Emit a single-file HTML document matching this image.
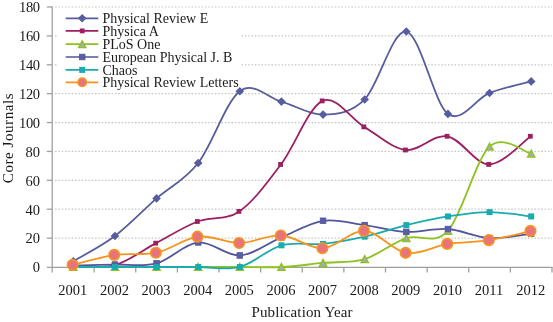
<!DOCTYPE html>
<html><head><meta charset="utf-8"><style>
html,body{margin:0;padding:0;background:#fff;}
svg{display:block;will-change:transform;}
text{font-family:"Liberation Serif",serif;fill:#1a1a1a;}
</style></head><body>
<svg width="553" height="322" viewBox="0 0 553 322">
<rect width="553" height="322" fill="#fff"/>

<line x1="55.05" y1="238.11" x2="552" y2="238.11" stroke="#C4C4C4" stroke-width="1.2" stroke-dasharray="1.5 1.83"/>
<line x1="55.05" y1="209.22" x2="552" y2="209.22" stroke="#C4C4C4" stroke-width="1.2" stroke-dasharray="1.5 1.83"/>
<line x1="55.05" y1="180.33" x2="552" y2="180.33" stroke="#C4C4C4" stroke-width="1.2" stroke-dasharray="1.5 1.83"/>
<line x1="55.05" y1="151.44" x2="552" y2="151.44" stroke="#C4C4C4" stroke-width="1.2" stroke-dasharray="1.5 1.83"/>
<line x1="55.05" y1="122.56" x2="552" y2="122.56" stroke="#C4C4C4" stroke-width="1.2" stroke-dasharray="1.5 1.83"/>
<line x1="55.05" y1="93.67" x2="552" y2="93.67" stroke="#C4C4C4" stroke-width="1.2" stroke-dasharray="1.5 1.83"/>
<line x1="55.05" y1="64.78" x2="552" y2="64.78" stroke="#C4C4C4" stroke-width="1.2" stroke-dasharray="1.5 1.83"/>
<line x1="55.05" y1="35.89" x2="552" y2="35.89" stroke="#C4C4C4" stroke-width="1.2" stroke-dasharray="1.5 1.83"/>
<line x1="55.05" y1="7.00" x2="552" y2="7.00" stroke="#C4C4C4" stroke-width="1.2" stroke-dasharray="1.5 1.83"/>
<g stroke="#A0A0A0" stroke-width="1.3" fill="none">
<line x1="52.2" y1="6.3" x2="52.2" y2="272.5"/>
<line x1="46.8" y1="267.3" x2="552.5" y2="267.3"/>
<line x1="46.8" y1="238.11" x2="52.2" y2="238.11"/>
<line x1="46.8" y1="209.22" x2="52.2" y2="209.22"/>
<line x1="46.8" y1="180.33" x2="52.2" y2="180.33"/>
<line x1="46.8" y1="151.44" x2="52.2" y2="151.44"/>
<line x1="46.8" y1="122.56" x2="52.2" y2="122.56"/>
<line x1="46.8" y1="93.67" x2="52.2" y2="93.67"/>
<line x1="46.8" y1="64.78" x2="52.2" y2="64.78"/>
<line x1="46.8" y1="35.89" x2="52.2" y2="35.89"/>
<line x1="46.8" y1="7.00" x2="52.2" y2="7.00"/>
<line x1="94.12" y1="267" x2="94.12" y2="272.5"/>
<line x1="135.75" y1="267" x2="135.75" y2="272.5"/>
<line x1="177.38" y1="267" x2="177.38" y2="272.5"/>
<line x1="219.00" y1="267" x2="219.00" y2="272.5"/>
<line x1="260.62" y1="267" x2="260.62" y2="272.5"/>
<line x1="302.25" y1="267" x2="302.25" y2="272.5"/>
<line x1="343.88" y1="267" x2="343.88" y2="272.5"/>
<line x1="385.50" y1="267" x2="385.50" y2="272.5"/>
<line x1="427.12" y1="267" x2="427.12" y2="272.5"/>
<line x1="468.75" y1="267" x2="468.75" y2="272.5"/>
<line x1="510.38" y1="267" x2="510.38" y2="272.5"/>
<line x1="552.00" y1="267" x2="552.00" y2="272.5"/>
</g>
<text x="40" y="272.30" font-size="14.5" text-anchor="end">0</text>
<text x="40" y="243.41" font-size="14.5" text-anchor="end">20</text>
<text x="40" y="214.52" font-size="14.5" text-anchor="end">40</text>
<text x="40" y="185.63" font-size="14.5" text-anchor="end">60</text>
<text x="40" y="156.74" font-size="14.5" text-anchor="end">80</text>
<text x="40" y="127.86" font-size="14.5" text-anchor="end" textLength="20.9" lengthAdjust="spacing">100</text>
<text x="40" y="98.97" font-size="14.5" text-anchor="end" textLength="20.9" lengthAdjust="spacing">120</text>
<text x="40" y="70.08" font-size="14.5" text-anchor="end" textLength="20.9" lengthAdjust="spacing">140</text>
<text x="40" y="41.19" font-size="14.5" text-anchor="end" textLength="20.9" lengthAdjust="spacing">160</text>
<text x="40" y="12.30" font-size="14.5" text-anchor="end" textLength="20.9" lengthAdjust="spacing">180</text>
<text x="72.81" y="295" font-size="14.5" text-anchor="middle">2001</text>
<text x="114.44" y="295" font-size="14.5" text-anchor="middle">2002</text>
<text x="156.06" y="295" font-size="14.5" text-anchor="middle">2003</text>
<text x="197.69" y="295" font-size="14.5" text-anchor="middle">2004</text>
<text x="239.31" y="295" font-size="14.5" text-anchor="middle">2005</text>
<text x="280.94" y="295" font-size="14.5" text-anchor="middle">2006</text>
<text x="322.56" y="295" font-size="14.5" text-anchor="middle">2007</text>
<text x="364.19" y="295" font-size="14.5" text-anchor="middle">2008</text>
<text x="405.81" y="295" font-size="14.5" text-anchor="middle">2009</text>
<text x="447.44" y="295" font-size="14.5" text-anchor="middle">2010</text>
<text x="489.06" y="295" font-size="14.5" text-anchor="middle">2011</text>
<text x="530.69" y="295" font-size="14.5" text-anchor="middle">2012</text>
<text x="302" y="317.3" font-size="15" text-anchor="middle" textLength="101" lengthAdjust="spacing">Publication Year</text>
<text transform="translate(13,138.3) rotate(-90)" font-size="15" text-anchor="middle" textLength="89.8" lengthAdjust="spacing">Core Journals</text>
<rect x="57" y="9" width="183" height="81" fill="#fff"/>
<path d="M73.31,261.22 C80.25,257.01 101.06,246.42 114.94,235.94 C128.81,225.47 142.69,210.55 156.56,198.39 C170.44,186.23 184.31,180.86 198.19,163.00 C212.06,145.14 225.94,101.44 239.81,91.21 C253.69,80.98 267.56,97.71 281.44,101.61 C295.31,105.51 309.19,114.97 323.06,114.61 C336.94,114.25 350.81,113.29 364.69,99.44 C378.56,85.60 392.44,29.15 406.31,31.56 C420.19,33.96 434.06,103.66 447.94,113.89 C461.81,124.12 475.69,98.36 489.56,92.94 C503.44,87.53 524.25,83.31 531.19,81.39" fill="none" stroke="#565C9D" stroke-width="1.8" stroke-linejoin="round" stroke-linecap="round"/>
<path d="M73.31,256.92l4.30,4.30l-4.30,4.30l-4.30,-4.30z" fill="#565C9D"/>
<path d="M114.94,231.64l4.30,4.30l-4.30,4.30l-4.30,-4.30z" fill="#565C9D"/>
<path d="M156.56,194.09l4.30,4.30l-4.30,4.30l-4.30,-4.30z" fill="#565C9D"/>
<path d="M198.19,158.70l4.30,4.30l-4.30,4.30l-4.30,-4.30z" fill="#565C9D"/>
<path d="M239.81,86.91l4.30,4.30l-4.30,4.30l-4.30,-4.30z" fill="#565C9D"/>
<path d="M281.44,97.31l4.30,4.30l-4.30,4.30l-4.30,-4.30z" fill="#565C9D"/>
<path d="M323.06,110.31l4.30,4.30l-4.30,4.30l-4.30,-4.30z" fill="#565C9D"/>
<path d="M364.69,95.14l4.30,4.30l-4.30,4.30l-4.30,-4.30z" fill="#565C9D"/>
<path d="M406.31,27.26l4.30,4.30l-4.30,4.30l-4.30,-4.30z" fill="#565C9D"/>
<path d="M447.94,109.59l4.30,4.30l-4.30,4.30l-4.30,-4.30z" fill="#565C9D"/>
<path d="M489.56,88.64l4.30,4.30l-4.30,4.30l-4.30,-4.30z" fill="#565C9D"/>
<path d="M531.19,77.09l4.30,4.30l-4.30,4.30l-4.30,-4.30z" fill="#565C9D"/>
<path d="M72.81,265.56 C79.75,265.51 100.56,269.00 114.44,265.27 C128.31,261.54 142.19,250.46 156.06,243.17 C169.94,235.87 183.81,226.80 197.69,221.50 C211.56,216.20 225.44,220.90 239.31,211.39 C253.19,201.88 267.06,182.86 280.94,164.44 C294.81,146.03 308.69,107.15 322.56,100.89 C336.44,94.63 350.31,118.70 364.19,126.89 C378.06,135.07 391.94,148.44 405.81,150.00 C419.69,151.56 433.56,133.87 447.44,136.28 C461.31,138.69 475.19,164.44 489.06,164.44 C502.94,164.44 523.75,140.97 530.69,136.28" fill="none" stroke="#9C1F61" stroke-width="1.8" stroke-linejoin="round" stroke-linecap="round"/>
<rect x="70.06" y="263.16" width="4.80" height="4.80" fill="#9C1F61"/>
<rect x="111.69" y="262.87" width="4.80" height="4.80" fill="#9C1F61"/>
<rect x="153.31" y="240.77" width="4.80" height="4.80" fill="#9C1F61"/>
<rect x="194.94" y="219.10" width="4.80" height="4.80" fill="#9C1F61"/>
<rect x="236.56" y="208.99" width="4.80" height="4.80" fill="#9C1F61"/>
<rect x="278.19" y="162.04" width="4.80" height="4.80" fill="#9C1F61"/>
<rect x="319.81" y="98.49" width="4.80" height="4.80" fill="#9C1F61"/>
<rect x="361.44" y="124.49" width="4.80" height="4.80" fill="#9C1F61"/>
<rect x="403.06" y="147.60" width="4.80" height="4.80" fill="#9C1F61"/>
<rect x="444.69" y="133.88" width="4.80" height="4.80" fill="#9C1F61"/>
<rect x="486.31" y="162.04" width="4.80" height="4.80" fill="#9C1F61"/>
<rect x="527.94" y="133.88" width="4.80" height="4.80" fill="#9C1F61"/>
<path d="M73.31,267.00 C80.25,267.00 101.06,267.00 114.94,267.00 C128.81,267.00 142.69,267.00 156.56,267.00 C170.44,267.00 184.31,267.00 198.19,267.00 C212.06,267.00 225.94,267.00 239.81,267.00 C253.69,267.00 267.56,267.67 281.44,267.00 C295.31,266.33 309.19,264.28 323.06,262.96 C336.94,261.63 350.81,263.20 364.69,259.06 C378.56,254.91 392.44,242.81 406.31,238.11 C420.19,233.42 434.06,246.13 447.94,230.89 C461.81,215.65 475.69,159.56 489.56,146.68 C503.44,133.80 524.25,152.46 531.19,153.61" fill="none" stroke="#8DC21F" stroke-width="1.8" stroke-linejoin="round" stroke-linecap="round"/>
<path d="M73.31,263.60L76.91,270.40L69.71,270.40z" fill="#A9A8C0" stroke="#8DC21F" stroke-width="1.4" stroke-linejoin="miter"/>
<path d="M114.94,263.60L118.54,270.40L111.34,270.40z" fill="#A9A8C0" stroke="#8DC21F" stroke-width="1.4" stroke-linejoin="miter"/>
<path d="M156.56,263.60L160.16,270.40L152.96,270.40z" fill="#A9A8C0" stroke="#8DC21F" stroke-width="1.4" stroke-linejoin="miter"/>
<path d="M198.19,263.60L201.79,270.40L194.59,270.40z" fill="#A9A8C0" stroke="#8DC21F" stroke-width="1.4" stroke-linejoin="miter"/>
<path d="M239.81,263.60L243.41,270.40L236.21,270.40z" fill="#A9A8C0" stroke="#8DC21F" stroke-width="1.4" stroke-linejoin="miter"/>
<path d="M281.44,263.60L285.04,270.40L277.84,270.40z" fill="#A9A8C0" stroke="#8DC21F" stroke-width="1.4" stroke-linejoin="miter"/>
<path d="M323.06,259.56L326.66,266.36L319.46,266.36z" fill="#A9A8C0" stroke="#8DC21F" stroke-width="1.4" stroke-linejoin="miter"/>
<path d="M364.69,255.66L368.29,262.46L361.09,262.46z" fill="#A9A8C0" stroke="#8DC21F" stroke-width="1.4" stroke-linejoin="miter"/>
<path d="M406.31,234.71L409.91,241.51L402.71,241.51z" fill="#A9A8C0" stroke="#8DC21F" stroke-width="1.4" stroke-linejoin="miter"/>
<path d="M447.94,227.49L451.54,234.29L444.34,234.29z" fill="#A9A8C0" stroke="#8DC21F" stroke-width="1.4" stroke-linejoin="miter"/>
<path d="M489.56,143.28L493.16,150.08L485.96,150.08z" fill="#A9A8C0" stroke="#8DC21F" stroke-width="1.4" stroke-linejoin="miter"/>
<path d="M531.19,150.21L534.79,157.01L527.59,157.01z" fill="#A9A8C0" stroke="#8DC21F" stroke-width="1.4" stroke-linejoin="miter"/>
<path d="M73.31,265.56 C80.25,265.39 101.06,264.91 114.94,264.54 C128.81,264.18 142.69,267.07 156.56,263.39 C170.44,259.71 184.31,243.77 198.19,242.44 C212.06,241.12 225.94,256.29 239.81,255.44 C253.69,254.60 267.56,243.17 281.44,237.39 C295.31,231.61 309.19,222.82 323.06,220.78 C336.94,218.73 350.81,223.26 364.69,225.11 C378.56,226.96 392.44,231.25 406.31,231.90 C420.19,232.55 434.06,227.98 447.94,229.01 C461.81,230.05 475.69,237.32 489.56,238.11 C503.44,238.91 524.25,234.50 531.19,233.78" fill="none" stroke="#51559C" stroke-width="1.8" stroke-linejoin="round" stroke-linecap="round"/>
<rect x="70.51" y="262.76" width="5.60" height="5.60" fill="#5A5EA6" stroke="#51559C" stroke-width="0.8"/>
<rect x="112.14" y="261.74" width="5.60" height="5.60" fill="#5A5EA6" stroke="#51559C" stroke-width="0.8"/>
<rect x="153.76" y="260.59" width="5.60" height="5.60" fill="#5A5EA6" stroke="#51559C" stroke-width="0.8"/>
<rect x="195.39" y="239.64" width="5.60" height="5.60" fill="#5A5EA6" stroke="#51559C" stroke-width="0.8"/>
<rect x="237.01" y="252.64" width="5.60" height="5.60" fill="#5A5EA6" stroke="#51559C" stroke-width="0.8"/>
<rect x="278.64" y="234.59" width="5.60" height="5.60" fill="#5A5EA6" stroke="#51559C" stroke-width="0.8"/>
<rect x="320.26" y="217.98" width="5.60" height="5.60" fill="#5A5EA6" stroke="#51559C" stroke-width="0.8"/>
<rect x="361.89" y="222.31" width="5.60" height="5.60" fill="#5A5EA6" stroke="#51559C" stroke-width="0.8"/>
<rect x="403.51" y="229.10" width="5.60" height="5.60" fill="#5A5EA6" stroke="#51559C" stroke-width="0.8"/>
<rect x="445.14" y="226.21" width="5.60" height="5.60" fill="#5A5EA6" stroke="#51559C" stroke-width="0.8"/>
<rect x="486.76" y="235.31" width="5.60" height="5.60" fill="#5A5EA6" stroke="#51559C" stroke-width="0.8"/>
<rect x="528.39" y="230.98" width="5.60" height="5.60" fill="#5A5EA6" stroke="#51559C" stroke-width="0.8"/>
<path d="M73.31,267.00 C80.25,267.00 101.06,267.00 114.94,267.00 C128.81,267.00 142.69,267.00 156.56,267.00 C170.44,267.00 184.31,267.00 198.19,267.00 C212.06,267.00 225.94,270.61 239.81,267.00 C253.69,263.39 267.56,249.19 281.44,245.33 C295.31,241.48 309.19,245.33 323.06,243.89 C336.94,242.44 350.81,239.80 364.69,236.67 C378.56,233.54 392.44,228.48 406.31,225.11 C420.19,221.74 434.06,218.61 447.94,216.44 C461.81,214.28 475.69,212.11 489.56,212.11 C503.44,212.11 524.25,215.72 531.19,216.44" fill="none" stroke="#19ABAE" stroke-width="1.8" stroke-linejoin="round" stroke-linecap="round"/>
<rect x="70.31" y="264.00" width="6.00" height="6.00" fill="#19ABAE"/>
<rect x="111.94" y="264.00" width="6.00" height="6.00" fill="#19ABAE"/>
<rect x="153.56" y="264.00" width="6.00" height="6.00" fill="#19ABAE"/>
<rect x="195.19" y="264.00" width="6.00" height="6.00" fill="#19ABAE"/>
<rect x="236.81" y="264.00" width="6.00" height="6.00" fill="#19ABAE"/>
<rect x="278.44" y="242.33" width="6.00" height="6.00" fill="#19ABAE"/>
<rect x="320.06" y="240.89" width="6.00" height="6.00" fill="#19ABAE"/>
<rect x="361.69" y="233.67" width="6.00" height="6.00" fill="#19ABAE"/>
<rect x="403.31" y="222.11" width="6.00" height="6.00" fill="#19ABAE"/>
<rect x="444.94" y="213.44" width="6.00" height="6.00" fill="#19ABAE"/>
<rect x="486.56" y="209.11" width="6.00" height="6.00" fill="#19ABAE"/>
<rect x="528.19" y="213.44" width="6.00" height="6.00" fill="#19ABAE"/>
<path d="M73.31,264.83 C80.25,263.17 101.06,256.89 114.94,254.87 C128.81,252.84 142.69,255.73 156.56,252.70 C170.44,249.67 184.31,238.28 198.19,236.67 C212.06,235.05 225.94,243.21 239.81,243.02 C253.69,242.83 267.56,234.64 281.44,235.51 C295.31,236.38 309.19,248.99 323.06,248.22 C336.94,247.45 350.81,230.12 364.69,230.89 C378.56,231.66 392.44,250.68 406.31,252.84 C420.19,255.01 434.06,246.01 447.94,243.89 C461.81,241.77 475.69,242.30 489.56,240.13 C503.44,237.97 524.25,232.43 531.19,230.89" fill="none" stroke="#F7941D" stroke-width="1.8" stroke-linejoin="round" stroke-linecap="round"/>
<circle cx="72.61" cy="264.83" r="5.25" fill="#E8737B" stroke="#F7941D" stroke-width="1.6"/>
<circle cx="114.24" cy="254.87" r="5.25" fill="#E8737B" stroke="#F7941D" stroke-width="1.6"/>
<circle cx="155.86" cy="252.70" r="5.25" fill="#E8737B" stroke="#F7941D" stroke-width="1.6"/>
<circle cx="197.49" cy="236.67" r="5.25" fill="#E8737B" stroke="#F7941D" stroke-width="1.6"/>
<circle cx="239.11" cy="243.02" r="5.25" fill="#E8737B" stroke="#F7941D" stroke-width="1.6"/>
<circle cx="280.74" cy="235.51" r="5.25" fill="#E8737B" stroke="#F7941D" stroke-width="1.6"/>
<circle cx="322.36" cy="248.22" r="5.25" fill="#E8737B" stroke="#F7941D" stroke-width="1.6"/>
<circle cx="363.99" cy="230.89" r="5.25" fill="#E8737B" stroke="#F7941D" stroke-width="1.6"/>
<circle cx="405.61" cy="252.84" r="5.25" fill="#E8737B" stroke="#F7941D" stroke-width="1.6"/>
<circle cx="447.24" cy="243.89" r="5.25" fill="#E8737B" stroke="#F7941D" stroke-width="1.6"/>
<circle cx="488.86" cy="240.13" r="5.25" fill="#E8737B" stroke="#F7941D" stroke-width="1.6"/>
<circle cx="530.49" cy="230.89" r="5.25" fill="#E8737B" stroke="#F7941D" stroke-width="1.6"/>
<line x1="65.7" y1="18.30" x2="98.3" y2="18.30" stroke="#565C9D" stroke-width="1.7"/>
<path d="M82.20,14.00l4.30,4.30l-4.30,4.30l-4.30,-4.30z" fill="#565C9D"/>
<text x="102.5" y="23.40" font-size="14">Physical Review E</text>
<line x1="65.7" y1="30.90" x2="98.3" y2="30.90" stroke="#9C1F61" stroke-width="1.7"/>
<rect x="79.80" y="28.50" width="4.80" height="4.80" fill="#9C1F61"/>
<text x="102.5" y="36.00" font-size="14">Physica A</text>
<line x1="65.7" y1="44.20" x2="98.3" y2="44.20" stroke="#8DC21F" stroke-width="1.7"/>
<path d="M82.20,40.80L85.80,47.60L78.60,47.60z" fill="#A9A8C0" stroke="#8DC21F" stroke-width="1.4" stroke-linejoin="miter"/>
<text x="102.5" y="48.60" font-size="14">PLoS One</text>
<line x1="65.7" y1="57.00" x2="98.3" y2="57.00" stroke="#51559C" stroke-width="1.7"/>
<rect x="79.40" y="54.20" width="5.60" height="5.60" fill="#5A5EA6" stroke="#51559C" stroke-width="0.8"/>
<text x="102.5" y="62.10" font-size="14">European Physical J. B</text>
<line x1="65.7" y1="69.90" x2="98.3" y2="69.90" stroke="#19ABAE" stroke-width="1.7"/>
<rect x="79.20" y="66.90" width="6.00" height="6.00" fill="#19ABAE"/>
<text x="102.5" y="75.00" font-size="14">Chaos</text>
<line x1="65.7" y1="82.30" x2="98.3" y2="82.30" stroke="#F7941D" stroke-width="1.7"/>
<circle cx="82.20" cy="82.30" r="4.20" fill="#E8737B" stroke="#F7941D" stroke-width="1.6"/>
<text x="102.5" y="87.40" font-size="14">Physical Review Letters</text>
</svg></body></html>
